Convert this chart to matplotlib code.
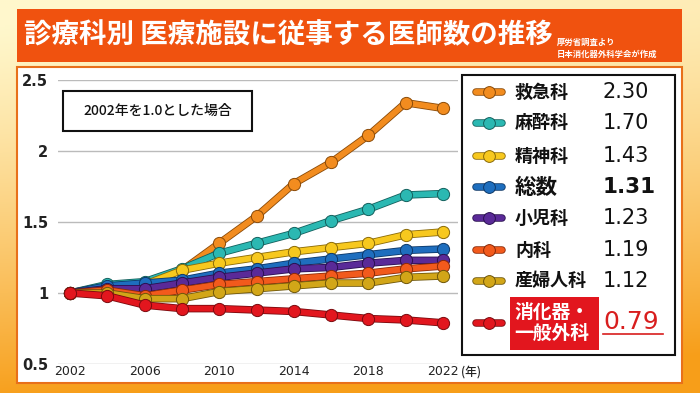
import numpy as np
import matplotlib
matplotlib.use("Agg")
import matplotlib.pyplot as plt
import matplotlib.patheffects as pe
from matplotlib.patches import Rectangle

plt.rcParams['font.family'] = ['Noto Sans CJK JP', 'DejaVu Sans']
NUM = ['DejaVu Sans']

# data (2002 = 1.0)
years = [2002, 2004, 2006, 2008, 2010, 2012, 2014, 2016, 2018, 2020, 2022]
names = ['救急科', '麻酔科', '精神科', '総数', '小児科', '内科', '産婦人科', '消化器・\n一般外科']
emergency = [1.00, 1.05, 1.07, 1.16, 1.35, 1.54, 1.77, 1.92, 2.11, 2.34, 2.30]
anesthesia = [1.00, 1.06, 1.08, 1.17, 1.28, 1.35, 1.42, 1.51, 1.59, 1.69, 1.70]
psychiatry = [1.00, 1.04, 1.06, 1.16, 1.21, 1.25, 1.29, 1.32, 1.35, 1.41, 1.43]
total = [1.00, 1.05, 1.07, 1.09, 1.14, 1.17, 1.21, 1.24, 1.27, 1.30, 1.31]
pediatrics = [1.00, 1.03, 1.03, 1.07, 1.11, 1.14, 1.17, 1.18, 1.21, 1.23, 1.23]
internal = [1.00, 1.02, 0.98, 1.02, 1.06, 1.08, 1.10, 1.12, 1.14, 1.17, 1.19]
obgyn = [1.00, 1.00, 0.96, 0.96, 1.01, 1.03, 1.05, 1.07, 1.07, 1.11, 1.12]
surgery = [1.00, 0.98, 0.915, 0.89, 0.89, 0.88, 0.87, 0.845, 0.82, 0.81, 0.79]
series = [emergency, anesthesia, psychiatry, total, pediatrics, internal, obgyn, surgery]
colors = ['#F28C1F', '#2BB8B2', '#F7C81E', '#1E6EBE', '#5A2A98', '#F25A1C', '#D2A618', '#E2161E']
edges = ['#8A4A08', '#13605D', '#8A6A08', '#0D3868', '#2A1050', '#8A2A08', '#6E560A', '#7A0A0E']

W, H = 700, 393
fig = plt.figure(figsize=(7, 3.93), dpi=100)

# background (pixel coords)
bg = fig.add_axes([0, 0, 1, 1], zorder=0)
bg.set_xlim(0, W)
bg.set_ylim(H, 0)
bg.axis('off')
yy, xx = np.mgrid[0:1:200j, 0:1:350j]
top = np.array([1.0, 0.97, 0.80])
bot = np.array([0.97, 0.62, 0.10])
t = np.clip(yy ** 1.3 + 0.15 * (xx - 0.2), 0, 1)[..., None]
img = top * (1 - t) + bot * t
bg.imshow(img, extent=[0, W, H, 0], aspect='auto', zorder=0)
bg.add_patch(Rectangle((17, 9), 665, 53, facecolor='#F0520F', edgecolor='none', zorder=1))
bg.add_patch(Rectangle((17, 67), 665, 316, facecolor='white', edgecolor='#E8701A', lw=1.5, zorder=1))

# main chart
ax = fig.add_axes([58 / W, 1 - 364 / H, 400 / W, 284 / H], zorder=1)
ax.patch.set_alpha(0)
for k, (s, c, e) in enumerate(zip(series, colors, edges)):
    ax.plot(years, s, color=c, lw=4.2, clip_on=False, zorder=3 + 2 * k,
            path_effects=[pe.Stroke(linewidth=5.4, foreground=e), pe.Normal()])
    ax.plot(years, s, ls='none', marker='o', ms=8.8, mfc=c, mec=e, mew=0.7,
            clip_on=False, zorder=4 + 2 * k)
ax.set_xlim(2001.36, 2022.8)
ax.set_ylim(0.5, 2.5)
ax.set_yticks([0.5, 1, 1.5, 2, 2.5])
ax.set_yticklabels(['0.5', '1', '1.5', '2', '2.5'], fontsize=10.5, fontweight='bold',
                   family=NUM, color='#222222')
ax.set_xticks([2002, 2006, 2010, 2014, 2018, 2022])
ax.set_xticklabels(['2002', '2006', '2010', '2014', '2018', '2022'], fontsize=9,
                   family=NUM, color='#222222')
ax.tick_params(length=0, axis='y', pad=7)
ax.tick_params(length=0, axis='x', pad=1)
ax.grid(axis='y', color='#BBBBBB', lw=1)
ax.set_axisbelow(True)
for sp in ax.spines.values():
    sp.set_visible(False)

# overlay: titles, note, legend
ov = fig.add_axes([0, 0, 1, 1], zorder=2)
ov.set_xlim(0, W)
ov.set_ylim(H, 0)
ov.axis('off')
ov.text(24, 35, '診療科別 医療施設に従事する医師数の推移', color='white', fontsize=19.8,
        fontweight='bold', va='center', ha='left')
ov.text(557, 42, '厚労省調査より', color='white', fontsize=6, fontweight='bold', va='center')
ov.text(557, 54, '日本消化器外科学会が作成', color='white', fontsize=6, fontweight='bold', va='center')
ov.text(461, 372, '(年)', fontsize=8.5, fontweight='medium', color='#222222', va='center')

ov.add_patch(Rectangle((63, 91), 189, 40, facecolor='white', edgecolor='#111111', lw=1.5))
ov.text(157.5, 111, '2002年を1.0とした場合', fontsize=10, fontweight='medium',
        ha='center', va='center', color='#111111')

ov.add_patch(Rectangle((462, 75), 213, 280, facecolor='white', edgecolor='#111111', lw=1.5))
rows = [92, 123, 156, 187, 218, 250, 281, 323]
for i, (name, s, c, e, y) in enumerate(zip(names, series, colors, edges, rows)):
    ov.plot([476, 502], [y, y], color=c, lw=4.2, solid_capstyle='round',
            path_effects=[pe.Stroke(linewidth=5.4, foreground=e), pe.Normal()])
    ov.plot([489], [y], marker='o', ms=8.5, mfc=c, mec=e, mew=0.7)
    val = f'{s[-1]:.2f}'
    if i == len(names) - 1:
        ov.add_patch(Rectangle((510, 297), 89, 53, facecolor='#E2161E', edgecolor='none'))
        ov.text(514, y, name, color='white', fontsize=13.5, fontweight='bold', va='center',
                ha='left', linespacing=1.15)
        ov.text(603, y - 1, val, color='#D81E1E', fontsize=18, family=NUM,
                va='center', ha='left')
        ov.plot([603, 663], [334, 334], color='#D81E1E', lw=1.2)
    elif name == '総数':
        ov.text(515, y, name, fontsize=15.5, fontweight='bold', va='center', color='#111111')
        ov.text(603, y, val, fontsize=15.5, fontweight='bold', family=NUM, va='center',
                color='#111111')
    else:
        ov.text(515, y, name, fontsize=13, fontweight='bold', va='center', color='#111111')
        ov.text(603, y, val, fontsize=15, family=NUM, va='center', color='#111111')

fig.savefig('out.png', dpi=100)
